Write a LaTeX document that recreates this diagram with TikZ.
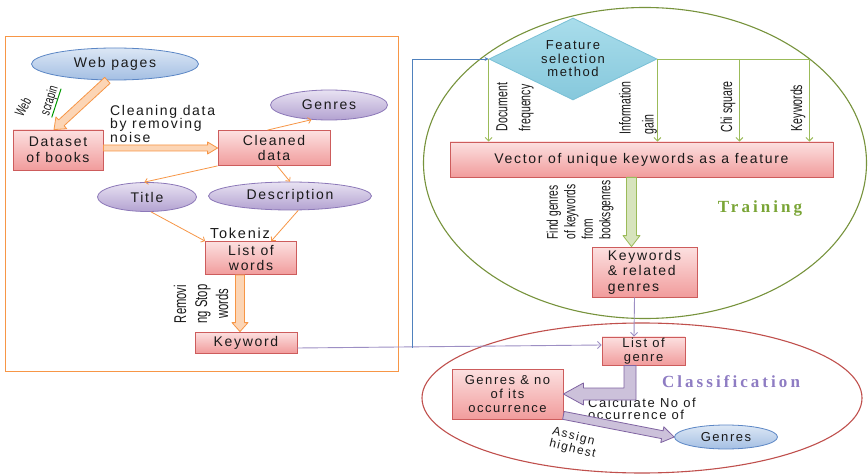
\documentclass[tikz,border=0pt]{standalone}
\usepackage{fontspec}
\setmainfont{Liberation Sans}[LetterSpace=12]
\newfontfamily\narrowfont{Liberation Sans}[FakeStretch=0.66]
\newfontfamily\titlefont{Liberation Serif}[LetterSpace=18]
\usetikzlibrary{shapes.geometric,arrows.meta,calc}
\newcommand\fsz[2]{\fontsize{#1}{#2}\selectfont}
\definecolor{txt}{HTML}{1A1A1A}
\definecolor{boxtop}{HTML}{FCE0E0}
\definecolor{boxbot}{HTML}{F19C9C}
\definecolor{boxline}{HTML}{CD5C5C}
\definecolor{pelltop}{HTML}{E8E2F2}
\definecolor{pellbot}{HTML}{B3A2D1}
\definecolor{pellline}{HTML}{8C78B8}
\definecolor{belltop}{HTML}{DCE7F5}
\definecolor{bellbot}{HTML}{A4BFE3}
\definecolor{bellline}{HTML}{5B86C5}
\definecolor{diamtop}{HTML}{A9DDEB}
\definecolor{diambot}{HTML}{86C8DC}
\definecolor{diamline}{HTML}{79C0D6}
\definecolor{orline}{HTML}{F79646}
\definecolor{orfill}{HTML}{FCD5B5}
\definecolor{grline}{HTML}{9BBB59}
\definecolor{grfill}{HTML}{D7E4BD}
\definecolor{traingreen}{HTML}{77933C}
\definecolor{trainlbl}{HTML}{7AA536}
\definecolor{puline}{HTML}{9D8FC4}
\definecolor{pufill}{HTML}{CCC1DA}
\definecolor{puedge}{HTML}{8064A2}
\definecolor{classlbl}{HTML}{8E7CC3}
\definecolor{classred}{HTML}{C0504D}
\definecolor{blueline}{HTML}{4F81BD}
\tikzset{
  box/.style={rectangle, draw=boxline, line width=0.8pt, top color=boxtop, bottom color=boxbot,
    align=center, inner sep=1pt, text=txt, font=\fsz{14}{15.5}},
  pell/.style={ellipse, draw=pellline, line width=0.8pt, top color=pelltop, bottom color=pellbot,
    inner sep=0pt, text=txt, font=\fsz{14}{15}},
  bell/.style={ellipse, draw=bellline, line width=0.8pt, top color=belltop, bottom color=bellbot,
    inner sep=0pt, text=txt, font=\fsz{14}{15}},
  lbl/.style={inner sep=0pt, text=txt, font=\fsz{13}{13.5}},
  rlbl/.style={inner sep=0pt, text=txt, rotate=90, align=left, font=\narrowfont\fsz{16}{23}},
  thinor/.style={draw=orline, line width=0.8pt, -{Straight Barb[length=3pt,width=6pt]}},
  greenarr/.style={draw=grline, line width=0.9pt, -{Straight Barb[length=3.5pt,width=7pt]}},
  purparr/.style={draw=puline, line width=0.9pt, -{Straight Barb[length=3.5pt,width=7pt]}},
  bluearr/.style={draw=blueline, line width=0.8pt, -{Stealth[length=4pt,width=4pt]}},
  fatorange/.style={draw=orline, fill=orfill, line width=0.8pt, line join=round},
  fatgreen/.style={draw=grline, fill=grfill, line width=0.8pt, line join=round},
  fatpurple/.style={draw=puedge, fill=pufill, line width=0.8pt, line join=round},
}
% #1 style, #2 from, #3 to, #4 half shaft, #5 head length, #6 half head
\newcommand\fatarrow[6]{%
  \coordinate (fah) at ($(#3)!#5!(#2)$);
  \path[#1] ($(#2)!#4!90:(#3)$) -- ($(fah)!#4!90:(#3)$) -- ($(fah)!#6!90:(#3)$) -- (#3)
    -- ($(fah)!#6!-90:(#3)$) -- ($(fah)!#4!-90:(#3)$) -- ($(#2)!#4!-90:(#3)$) -- cycle;}
\begin{document}
\begin{tikzpicture}[x=1pt,y=-1pt]
\useasboundingbox[fill=white] (0,0) rectangle (868,476);
% big frames
\draw[draw=orline, line width=1pt] (5,37) rectangle (398,371);
\node[ellipse, draw=traingreen, line width=1.1pt, minimum width=443pt, minimum height=311pt, inner sep=0pt] (train) at (645,163) {};
\node[ellipse, draw=classred, line width=1.1pt, minimum width=440pt, minimum height=150pt, inner sep=0pt] (classif) at (642,398) {};
% nodes
\node[bell, minimum width=167pt, minimum height=32pt] (web) at (115,64) {Web pages};
\node[box, minimum width=90pt, minimum height=40pt] (dataset) at (58,150) {Dataset\\of books};
\node[box, minimum width=112pt, minimum height=35pt] (cleaned) at (274,148) {Cleaned\\data};
\node[pell, minimum width=117pt, minimum height=30pt] (genresA) at (329,105) {Genres};
\node[pell, minimum width=163pt, minimum height=28pt] (desc) at (290,196) {Description};
\node[pell, minimum width=99pt, minimum height=29pt] (title) at (147,197) {Title};
\node[box, minimum width=91pt, minimum height=33pt] (words) at (251,258) {List of\\words};
\node[box, minimum width=102pt, minimum height=21pt] (keyword) at (246,342.5) {Keyword};
\node[diamond, draw=diamline, line width=0.8pt, top color=diamtop, bottom color=diambot,
  minimum width=168pt, minimum height=82pt, inner sep=0pt, aspect=2, align=center,
  text=txt, font=\fsz{13}{13.5}] (feat) at (573,59) {Feature\\selection\\method};
\node[box, minimum width=383pt, minimum height=35pt] (vector) at (641.5,159.5) {Vector of unique keywords as a feature};
\node[box, minimum width=105pt, minimum height=50pt, align=left] (kw) at (644.5,272) {Keywords\\\& related\\genres};
\node[box, minimum width=83pt, minimum height=28pt, font=\fsz{13}{14}] (listgenre) at (643.5,351) {List of\\genre};
\node[box, minimum width=111pt, minimum height=50pt, font=\fsz{13}{14}] (gno) at (507.5,394) {Genres \& no\\of its\\occurrence};
\node[bell, minimum width=103pt, minimum height=24pt, font=\fsz{13}{14}] (genresB) at (726,437) {Genres};
% labels
\node[lbl, rotate=62, font=\narrowfont\fsz{14}{14}] (weblbl) at (23,107) {Web};
\node[lbl, rotate=72, font=\narrowfont\fsz{14}{14}] (scraplbl) at (50,101) {scrapin};
\draw[draw=green!60!black, line width=1pt] (scraplbl.south west) -- (scraplbl.south east);
\node[lbl, align=left, anchor=north west, font=\fsz{14}{13.5}] (cleanlbl) at (110,105) {Cleaning data\\by removing\\noise};
\node[lbl, font=\fsz{14.5}{14.5}] (toklbl) at (240,233) {Tokeniz};
\node[rlbl, align=center, font=\narrowfont\fsz{17}{21}] (rmlbl) at (201,304) {Removi\\ng Stop\\words};
\node[rlbl] (doclbl) at (515,107) {Document\\frequency};
\node[rlbl] (infolbl) at (638,108) {Information\\gain};
\node[rlbl] (chilbl) at (728,107) {Chi square};
\node[rlbl] (kwlbl) at (798,108) {Keywords};
\node[rlbl, font=\narrowfont\fsz{15.5}{17.5}] (findlbl) at (580,210) {Find genres\\of keywords\\from\\booksgenres};
\node[inner sep=0pt, text=trainlbl, font=\titlefont\bfseries\fsz{17}{17}] (trainl) at (760,208) {Training};
\node[inner sep=0pt, text=classlbl, font=\titlefont\bfseries\fsz{17}{17}] (classl) at (731,382) {Classification};
\node[lbl, align=left, anchor=north west, font=\fsz{13}{12}] (calclbl) at (588,398) {Calculate No of\\occurrence of};
\node[lbl, align=left, rotate=-14, font=\fsz{12}{12.5}] (asglbl) at (574,443) {Assign\\highest};
% fat arrows
\coordinate (w1) at (web.245);
\coordinate (w2) at ($(dataset.north)+(-4,0)$);
\fatarrow{fatorange}{w1}{w2}{4pt}{10pt}{8pt}
\coordinate (d1) at (dataset.east |- cleaned.west);
\fatarrow{fatorange}{d1}{cleaned.west}{3pt}{10pt}{6pt}
\coordinate (l1) at ($(words.south)+(-11,0)$);
\coordinate (l2) at (l1 |- keyword.north);
\fatarrow{fatorange}{l1}{l2}{4.5pt}{9pt}{8pt}
\coordinate (v1) at ($(vector.south)+(-10,0)$);
\coordinate (v2) at (v1 |- kw.north);
\fatarrow{fatgreen}{v1}{v2}{5pt}{11pt}{8.5pt}
\coordinate (g1) at ($(gno.south east)+(0,-4)$);
\fatarrow{fatpurple}{g1}{genresB.west}{4pt}{12pt}{8pt}
\path[fatpurple] ($(listgenre.south)+(-19.5,0)$) |- ($(gno.east)+(20,-6)$) -- ++(0,-5) -- (gno.east)
  -- ($(gno.east)+(20,11)$) -- ++(0,-5) -| ($(listgenre.south)+(-7.5,0)$) -- cycle;
% thin connectors
\draw[thinor] (cleaned.110) -- (genresA.220);
\draw[thinor] (cleaned.-80) -- (desc.north);
\draw[thinor] (cleaned.south west) -- (title.100);
\draw[thinor] (title.-75) -- (words.north west);
\draw[thinor] (desc.-60) -- ($(words.north west)!0.72!(words.north east)$);
\draw[purparr] ($(keyword.east)+(0,5.5)$) -- ($(listgenre.west)+(0,-6)$);
\draw[purparr] ($(kw.south)+(-10,0)$) -- ($(listgenre.north)+(-9.5,0)$);
\coordinate (bj) at (412,347.5);
\draw[bluearr] (bj) |- (feat.west);
\draw[greenarr] (feat.west) -- (feat.west |- vector.north);
\coordinate (gR) at ($(feat.east)+(152,0)$);
\coordinate (gM) at ($(feat.east)+(82,0)$);
\draw[draw=grline, line width=0.9pt] (feat.east) -- (gR);
\draw[greenarr] (feat.east) -- (feat.east |- vector.north);
\draw[greenarr] (gM) -- (gM |- vector.north);
\draw[greenarr] (gR) -- (gR |- vector.north);
\end{tikzpicture}
\end{document}
